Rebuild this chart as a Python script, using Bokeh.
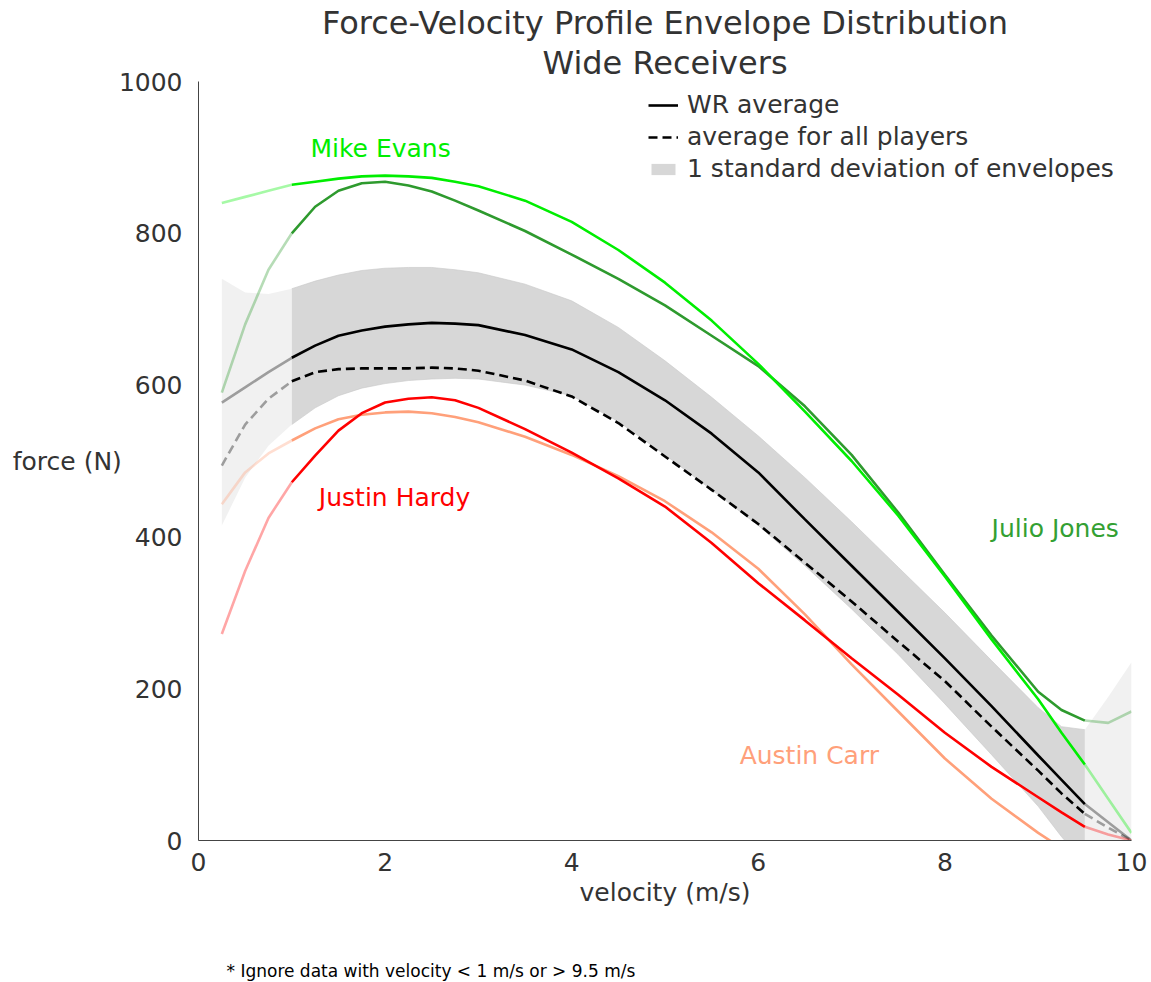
import numpy as np
from bokeh.plotting import figure
from bokeh.models import Range1d, Title, Legend, LegendItem, FixedTicker, Label
from bokeh.embed import file_html
from bokeh.resources import INLINE

# ---------------- data ----------------
velocity = [0.25, 0.5, 0.75, 1.0, 1.25, 1.5, 1.75, 2.0, 2.25, 2.5, 2.75, 3.0, 3.5, 4.0,
            4.5, 5.0, 5.5, 6.0, 6.5, 7.0, 7.5, 8.0, 8.5, 9.0, 9.25, 9.5, 9.75, 10.0]

wr_average = [577, 597, 617, 636, 652, 665, 672, 677, 680, 682, 681, 679, 666, 647,
              617, 580, 536, 485, 423, 362, 301, 240, 177, 112, 80, 48, 24, 0]
all_players_average = [494, 548, 582, 605, 617, 621, 622, 622, 622, 623, 622, 619, 606, 585,
                       550, 506, 462, 417, 366, 315, 262, 210, 150, 92, 62, 35, 17, 0]
std_upper = [740, 722, 720, 727, 737, 745, 751, 754, 755, 755, 752, 748, 733, 711,
             676, 632, 584, 533, 478, 420, 360, 300, 237, 175, 150, 146, 189, 235]
std_lower = [415, 478, 520, 548, 570, 586, 596, 602, 606, 608, 609, 608, 600, 586,
             552, 508, 462, 415, 362, 305, 245, 180, 113, 45, 5, -30, -60, -90]

mike_evans = [840, 848, 856, 864, 868, 872, 875, 876, 875, 873, 868, 862, 843, 815,
              778, 735, 685, 628, 565, 500, 428, 348, 265, 186, 142, 100, 55, 10]
julio_jones = [590, 680, 752, 800, 835, 856, 866, 868, 863, 855, 843, 830, 803, 772,
               740, 705, 665, 625, 572, 508, 432, 350, 270, 196, 172, 158, 155, 170]
justin_hardy = [272, 355, 425, 472, 507, 540, 563, 577, 582, 584, 580, 570, 542, 511,
                477, 440, 392, 339, 290, 240, 192, 142, 97, 57, 37, 18, 8, 0]
austin_carr = [443, 485, 510, 527, 543, 555, 561, 564, 565, 563, 558, 551, 532, 508,
               480, 447, 406, 358, 298, 232, 170, 108, 55, 10, -10, -30, -45, -60]

x_ticks = [0, 2, 4, 6, 8, 10]
y_ticks = [0, 200, 400, 600, 800, 1000]

FONT = "DejaVu Sans"
TXT = "#333333"

# ---------------- figure ----------------
p = figure(width=1151, height=982, output_backend="svg", toolbar_location=None,
           x_range=Range1d(0, 10), y_range=Range1d(0, 1000),
           min_border_left=198, min_border_right=20, min_border_top=81,
           min_border_bottom=142)
p.outline_line_color = None
p.xgrid.visible = False
p.ygrid.visible = False
p.background_fill_color = "white"
p.border_fill_color = "white"

v = np.array(velocity, dtype=float)
L = v <= 1.0
M = (v >= 1.0) & (v <= 9.5)
R = v >= 9.5

up = np.array(std_upper, dtype=float)
lo = np.array(std_lower, dtype=float)

# std bands
band = p.varea(x=v[M], y1=lo[M], y2=up[M], fill_color="#d3d3d3", fill_alpha=0.9)
p.line(v[M], up[M], line_color="#c8c8c8", line_width=1, line_alpha=0.6)
p.line(v[M], lo[M], line_color="#c8c8c8", line_width=1, line_alpha=0.6)
for mask in (L, R):
    p.varea(x=v[mask], y1=lo[mask], y2=up[mask], fill_color="#d3d3d3", fill_alpha=0.33)


def seg(y, color, dash="solid", width=2.6):
    y = np.array(y, dtype=float)
    p.line(v[L], y[L], line_color=color, line_alpha=0.35, line_width=width, line_dash=dash)
    r = p.line(v[M], y[M], line_color=color, line_width=width, line_dash=dash)
    p.line(v[R], y[R], line_color=color, line_alpha=0.35, line_width=width, line_dash=dash)
    return r


r_all = seg(all_players_average, "black", dash="9 5")
r_avg = seg(wr_average, "black")
seg(austin_carr, "#ffa07a")
seg(justin_hardy, "#ff0000")
seg(julio_jones, "#2e9a2e")
seg(mike_evans, "#00ee00")

# player labels
for txt, x, y, col in [("Mike Evans", 1.2, 912, "#00ee00"),
                       ("Justin Hardy", 1.29, 452, "#ff0000"),
                       ("Julio Jones", 8.5, 411, "#33a033"),
                       ("Austin Carr", 5.8, 112, "#ffa07a")]:
    p.add_layout(Label(x=x, y=y, text=txt, text_color=col, text_font=FONT,
                       text_font_size="25px", text_baseline="middle", text_align="left"))

# legend
legend = Legend(items=[LegendItem(label="WR average", renderers=[r_avg]),
                       LegendItem(label="average for all players", renderers=[r_all]),
                       LegendItem(label="1 standard deviation of envelopes", renderers=[band])],
                location=(450, 657), border_line_color=None, background_fill_alpha=0,
                padding=0, margin=0, spacing=3, glyph_width=30, glyph_height=14,
                label_height=22, label_standoff=9, label_text_font=FONT,
                label_text_font_size="25px", label_text_color=TXT)
p.add_layout(legend, "center")

# axes
for ax in (p.xaxis[0], p.yaxis[0]):
    ax.major_tick_line_color = None
    ax.minor_tick_line_color = None
    ax.axis_line_color = "#444444"
    ax.axis_line_width = 1
    ax.major_label_text_font = FONT
    ax.major_label_text_font_size = "25px"
    ax.major_label_text_color = TXT
    ax.axis_label_text_font = FONT
    ax.axis_label_text_font_size = "25px"
    ax.axis_label_text_font_style = "normal"
    ax.axis_label_text_color = TXT

p.xaxis.ticker = FixedTicker(ticks=x_ticks)
p.yaxis.ticker = FixedTicker(ticks=y_ticks)
p.xaxis.major_label_standoff = 6
p.yaxis.major_label_standoff = 10
p.xaxis.axis_label = "velocity (m/s)"
p.xaxis.axis_label_standoff = 4
p.yaxis.axis_label = "force (N)"
p.yaxis.axis_label_orientation = "horizontal"
p.yaxis.axis_label_standoff = -6

# titles (last added is outermost)
p.add_layout(Title(text="Wide Receivers", align="center", text_font=FONT,
                   text_font_size="32px", text_font_style="normal", text_color=TXT,
                   standoff=0), "above")
p.add_layout(Title(text="Force-Velocity Profile Envelope Distribution", align="center",
                   text_font=FONT, text_font_size="32px", text_font_style="normal",
                   text_color=TXT, standoff=0), "above")

# footnote: an empty spacer title, then the note itself
p.add_layout(Title(text=" ", text_font_size="17px", standoff=28), "below")
p.add_layout(Title(text="* Ignore data with velocity < 1 m/s or > 9.5 m/s", align="left",
                   offset=28, text_font=FONT, text_font_size="17px",
                   text_font_style="normal", text_color="black", standoff=0), "below")

open("out.html", "w").write(file_html(p, INLINE))
